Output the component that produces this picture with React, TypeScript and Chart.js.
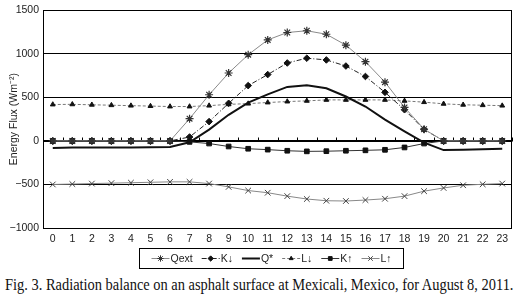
import React, { useEffect, useRef } from 'react';
import { Chart, registerables } from 'chart.js';
import { drawPoint } from 'chart.js/helpers';

Chart.register(...registerables);

const hours = ['0','1','2','3','4','5','6','7','8','9','10','11','12','13','14','15','16','17','18','19','20','21','22','23'];
const yTicks = [-1000, -500, 0, 500, 1000, 1500];

const qext = [0,0,0,0,0,0,0,255,530,780,990,1160,1245,1265,1225,1100,910,675,385,135,0,0,0,0];
const kDown = [0,0,0,0,0,0,0,45,222,432,635,762,895,950,930,860,740,558,358,132,0,0,0,0];
const qStar = [-80,-75,-75,-75,-75,-72,-70,-15,130,300,440,535,620,640,605,510,395,245,110,-20,-105,-100,-95,-90];
const lDown = [418,420,415,410,405,400,395,395,405,420,428,441,452,460,471,471,471,471,460,445,426,415,410,405];
const kUp = [0,0,0,0,0,0,0,-11,-30,-64,-90,-100,-113,-120,-118,-113,-108,-102,-75,-30,0,0,0,0];
const lUp = [-500,-495,-490,-485,-480,-475,-470,-470,-490,-528,-570,-595,-634,-667,-687,-690,-679,-664,-634,-577,-540,-509,-498,-490];

const seriesLabels = ['Qext', 'K\u2193', 'Q*', 'L\u2193', 'K\u2191', 'L\u2191'];
const caption = 'Fig. 3. Radiation balance on an asphalt surface at Mexicali, Mexico, for August 8, 2011.';

const SANS = '"Liberation Sans", Arial, sans-serif';

const frame = {
  id: 'frame',
  beforeDatasetsDraw(chart: any) {
    const { ctx, chartArea, scales } = chart;
    const y0 = scales.y.getPixelForValue(0);
    ctx.save();
    ctx.strokeStyle = '#000';
    ctx.lineWidth = 1;
    ctx.beginPath();
    ctx.moveTo(chartArea.left, Math.round(y0) + 0.5);
    ctx.lineTo(chartArea.right, Math.round(y0) + 0.5);
    for (let i = 0; i <= hours.length; i++) {
      const x = Math.round(scales.x.getPixelForValue(i - 0.5)) + 0.5;
      ctx.moveTo(x, Math.round(y0) + 0.5);
      ctx.lineTo(x, Math.round(y0) - 3.5);
    }
    ctx.stroke();
    ctx.restore();
  },
  afterDraw(chart: any) {
    const { ctx, chartArea } = chart;
    ctx.save();
    ctx.strokeStyle = '#000';
    ctx.lineWidth = 1;
    ctx.strokeRect(Math.round(chartArea.left) + 0.5, Math.round(chartArea.top) + 0.5,
      Math.round(chartArea.right - chartArea.left) - 1, Math.round(chartArea.bottom - chartArea.top));

    // legend
    ctx.font = '10.5px ' + SANS;
    const lineW = 18;
    const gap = 9;
    const pad = 12;
    const dsets = chart.data.datasets;
    let total = 0;
    dsets.forEach((d: any, i: number) => {
      total += lineW + 1 + ctx.measureText(d.label).width + (i < dsets.length - 1 ? gap : 0);
    });
    const boxL = Math.round(chartArea.left + 96) + 0.5;
    const boxT = Math.round(chartArea.bottom + 20) + 0.5;
    const boxH = 20;
    const boxW = Math.round(total + pad * 2);
    ctx.strokeRect(boxL, boxT, boxW, boxH);
    const cy = boxT + boxH / 2;
    let x = boxL + pad;
    dsets.forEach((d: any) => {
      ctx.save();
      ctx.strokeStyle = d.borderColor;
      ctx.lineWidth = d.borderWidth;
      ctx.setLineDash(d.borderDash || []);
      ctx.beginPath();
      ctx.moveTo(x, cy);
      ctx.lineTo(x + lineW, cy);
      ctx.stroke();
      ctx.setLineDash([]);
      if (d.pointRadius > 0) {
        ctx.fillStyle = d.pointBackgroundColor;
        ctx.strokeStyle = d.pointBorderColor;
        drawPoint(ctx, { pointStyle: d.pointStyle, rotation: 0, radius: d.pointRadius * 0.8, borderWidth: d.pointBorderWidth }, x + lineW / 2, cy);
      }
      ctx.restore();
      x += lineW + 1;
      ctx.fillStyle = '#222';
      ctx.textBaseline = 'middle';
      ctx.textAlign = 'left';
      ctx.fillText(d.label, x, cy + 0.5);
      x += ctx.measureText(d.label).width + gap;
    });
    ctx.restore();
  },
};

export default function App() {
  const ref = useRef<HTMLCanvasElement | null>(null);
  useEffect(() => {
    if (!ref.current) return;
    const chart = new Chart(ref.current, {
      type: 'line',
      data: {
        labels: hours,
        datasets: [
          { label: seriesLabels[0], data: qext, borderColor: '#8a8a8a', borderWidth: 1, pointStyle: 'star', pointRadius: 4, pointBorderColor: '#333', pointBackgroundColor: '#333', pointBorderWidth: 1.2 },
          { label: seriesLabels[1], data: kDown, borderColor: '#222', borderWidth: 1, borderDash: [5, 2, 1, 2], pointStyle: 'rectRot', pointRadius: 3.3, pointBorderColor: '#111', pointBackgroundColor: '#111', pointBorderWidth: 1 },
          { label: seriesLabels[2], data: qStar, borderColor: '#111', borderWidth: 2, pointRadius: 0, pointStyle: 'circle', pointBorderColor: '#111', pointBackgroundColor: '#111', pointBorderWidth: 0 },
          { label: seriesLabels[3], data: lDown, borderColor: '#777', borderWidth: 1, borderDash: [3, 2], pointStyle: 'triangle', pointRadius: 2.8, pointBorderColor: '#111', pointBackgroundColor: '#111', pointBorderWidth: 1 },
          { label: seriesLabels[4], data: kUp, borderColor: '#333', borderWidth: 1, pointStyle: 'rect', pointRadius: 3.3, pointBorderColor: '#111', pointBackgroundColor: '#111', pointBorderWidth: 1 },
          { label: seriesLabels[5], data: lUp, borderColor: '#888', borderWidth: 1, pointStyle: 'crossRot', pointRadius: 4, pointBorderColor: '#444', pointBackgroundColor: '#444', pointBorderWidth: 1 },
        ],
      },
      options: {
        responsive: false,
        animation: false,
        layout: { padding: { top: 7, right: 6, left: 0, bottom: 0 } },
        plugins: { legend: { display: false }, tooltip: { enabled: false }, title: { display: false } },
        elements: { line: { tension: 0 } },
        scales: {
          x: {
            type: 'category',
            offset: true,
            grid: { display: false, drawTicks: false },
            border: { display: false },
            ticks: { color: '#222', font: { family: SANS, size: 10.5 }, padding: 5, maxRotation: 0, autoSkip: false },
            afterFit: (s: any) => { s.height = 47; },
          },
          y: {
            min: -1000,
            max: 1500,
            afterBuildTicks: (s: any) => { s.ticks = yTicks.map((v) => ({ value: v })); },
            grid: { color: '#000', lineWidth: 1, drawTicks: false },
            border: { display: true, color: '#000' },
            ticks: {
              color: '#222', font: { family: SANS, size: 10.5 }, padding: 4,
              callback: (v: any) => String(v).replace('-', '\u2212'),
            },
            title: { display: true, text: 'Energy Flux (Wm\u207B\u00B2)', color: '#222', font: { family: SANS, size: 10.5 }, padding: { top: 8, bottom: 0 } },
            afterFit: (s: any) => { s.width = 43; },
          },
        },
      },
      plugins: [frame],
    } as any);
    return () => chart.destroy();
  }, []);

  return (
    <div style={{ position: 'absolute', left: 0, top: 0, width: 518, height: 297, background: '#fff', overflow: 'hidden' }}>
      <canvas ref={ref} width={518} height={275} style={{ display: 'block', width: 518, height: 275 }} />
      <div style={{ position: 'absolute', left: 5, top: 276, fontFamily: '"Liberation Serif", "Times New Roman", serif', fontSize: 16, lineHeight: '18px', whiteSpace: 'nowrap', color: '#111', transform: 'scaleX(0.902)', transformOrigin: 'left top' }}>
        {caption}
      </div>
    </div>
  );
}
